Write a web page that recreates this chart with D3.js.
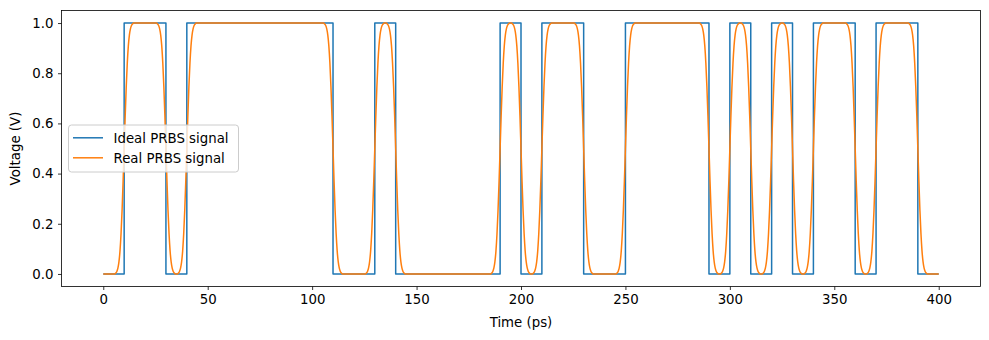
<!DOCTYPE html>
<html>
<head>
<meta charset="utf-8">
<script src="https://cdn.jsdelivr.net/npm/d3@7"></script>
<style>
  html, body { margin: 0; padding: 0; background: #fff; }
  svg { display: block; font-family: "DejaVu Sans", sans-serif; }
</style>
</head>
<body>
<svg id="chart" width="989" height="340"></svg>
<script>
// PRBS bit sequence, one bit per 10 ps slot
const bitPeriod = 10;
const bits = [0,1,1,0,1,1,1,1,1,1, 1,0,0,1,0,0,0,0,0,1,
              0,1,1,0,0,1,1,1,1,0, 1,0,1,0,1,1,0,1,1,0];

// Measured rising-edge profile of the real channel, sampled every 0.5 ps
// from -4.5 ps to +4.5 ps around a bit boundary
const edgeStep = 0.5;
const edgeProfile = [0, 0.004, 0.01, 0.023, 0.048, 0.091, 0.159, 0.253, 0.369, 0.5,
                     0.631, 0.747, 0.841, 0.909, 0.952, 0.977, 0.99, 0.996, 1];

const xTicks = [0, 50, 100, 150, 200, 250, 300, 350, 400];
const yTicks = [0.0, 0.2, 0.4, 0.6, 0.8, 1.0];
const seriesNames = ["Ideal PRBS signal", "Real PRBS signal"];
const colors = ["#1f77b4", "#ff7f0e"];

const tEnd = bits.length * bitPeriod;

// Ideal signal: level of each bit held for the full slot
const ideal = bits.map((b, i) => ({ t: i * bitPeriod, v: b }));
ideal.push({ t: tEnd, v: bits[bits.length - 1] });

// Real signal: every bit transition replaced by the measured edge
const halfEdge = (edgeProfile.length - 1) / 2 * edgeStep;
function edgeAt(d) {
  if (d <= -halfEdge) return 0;
  if (d >= halfEdge) return 1;
  return edgeProfile[Math.round((d + halfEdge) / edgeStep)];
}
const real = d3.range(0, tEnd + edgeStep / 2, edgeStep).map(t => {
  let v = bits[0];
  for (let k = 1; k < bits.length; k++) {
    const delta = bits[k] - bits[k - 1];
    if (delta !== 0) v += delta * edgeAt(t - k * bitPeriod);
  }
  return { t, v };
});

// Layout
const svg = d3.select("#chart");
const plot = { left: 61.5, right: 980.5, top: 10.5, bottom: 286.5 };

const x = d3.scaleLinear().domain([-20, 420]).range([plot.left, plot.right]);
const y = d3.scaleLinear().domain([-0.05, 1.05]).range([plot.bottom, plot.top]);

const fontSize = "13.33px";

// Axes
const xAxis = svg.append("g")
  .attr("transform", `translate(0,${plot.bottom})`)
  .call(d3.axisBottom(x).tickValues(xTicks).tickFormat(d3.format("d")).tickSize(3.5).tickPadding(4.5));
const yAxis = svg.append("g")
  .attr("transform", `translate(${plot.left},0)`)
  .call(d3.axisLeft(y).tickValues(yTicks).tickFormat(d3.format(".1f")).tickSize(3.5).tickPadding(4.5));

[xAxis, yAxis].forEach(g => {
  g.select(".domain").remove();
  g.selectAll(".tick line").attr("stroke", "#000").attr("stroke-width", 0.8);
  g.selectAll(".tick text").attr("fill", "#000")
    .style("font-size", fontSize).style("font-family", "DejaVu Sans, sans-serif");
});

// Series
const line = d3.line().x(d => x(d.t)).y(d => y(d.v));

svg.append("path")
  .datum(ideal)
  .attr("fill", "none")
  .attr("stroke", colors[0])
  .attr("stroke-width", 1.5)
  .attr("stroke-linejoin", "round")
  .attr("d", line.curve(d3.curveStepAfter));

svg.append("path")
  .datum(real)
  .attr("fill", "none")
  .attr("stroke", colors[1])
  .attr("stroke-width", 1.5)
  .attr("stroke-linejoin", "round")
  .attr("d", line.curve(d3.curveMonotoneX));

// Frame
svg.append("rect")
  .attr("x", plot.left).attr("y", plot.top)
  .attr("width", plot.right - plot.left).attr("height", plot.bottom - plot.top)
  .attr("fill", "none").attr("stroke", "#000").attr("stroke-width", 0.8);

// Axis titles
svg.append("text")
  .attr("x", (plot.left + plot.right) / 2).attr("y", 327)
  .attr("text-anchor", "middle")
  .style("font-size", fontSize)
  .text("Time (ps)");

svg.append("text")
  .attr("transform", `translate(19.5,${(plot.top + plot.bottom) / 2}) rotate(-90)`)
  .attr("text-anchor", "middle")
  .style("font-size", fontSize)
  .text("Voltage (V)");

// Legend
const legend = svg.append("g").attr("transform", "translate(68.5,125)");
legend.append("rect")
  .attr("width", 170).attr("height", 47)
  .attr("rx", 3).attr("ry", 3)
  .attr("fill", "#fff").attr("fill-opacity", 0.8)
  .attr("stroke", "#cccccc").attr("stroke-width", 1);

seriesNames.forEach((name, i) => {
  const cy = 12.8 + i * 20;
  legend.append("line")
    .attr("x1", 4.5).attr("x2", 34.5)
    .attr("y1", cy).attr("y2", cy)
    .attr("stroke", colors[i]).attr("stroke-width", 1.5);
  legend.append("text")
    .attr("x", 45).attr("y", cy)
    .attr("dy", "0.36em")
    .style("font-size", fontSize)
    .text(name);
});
</script>
</body>
</html>
